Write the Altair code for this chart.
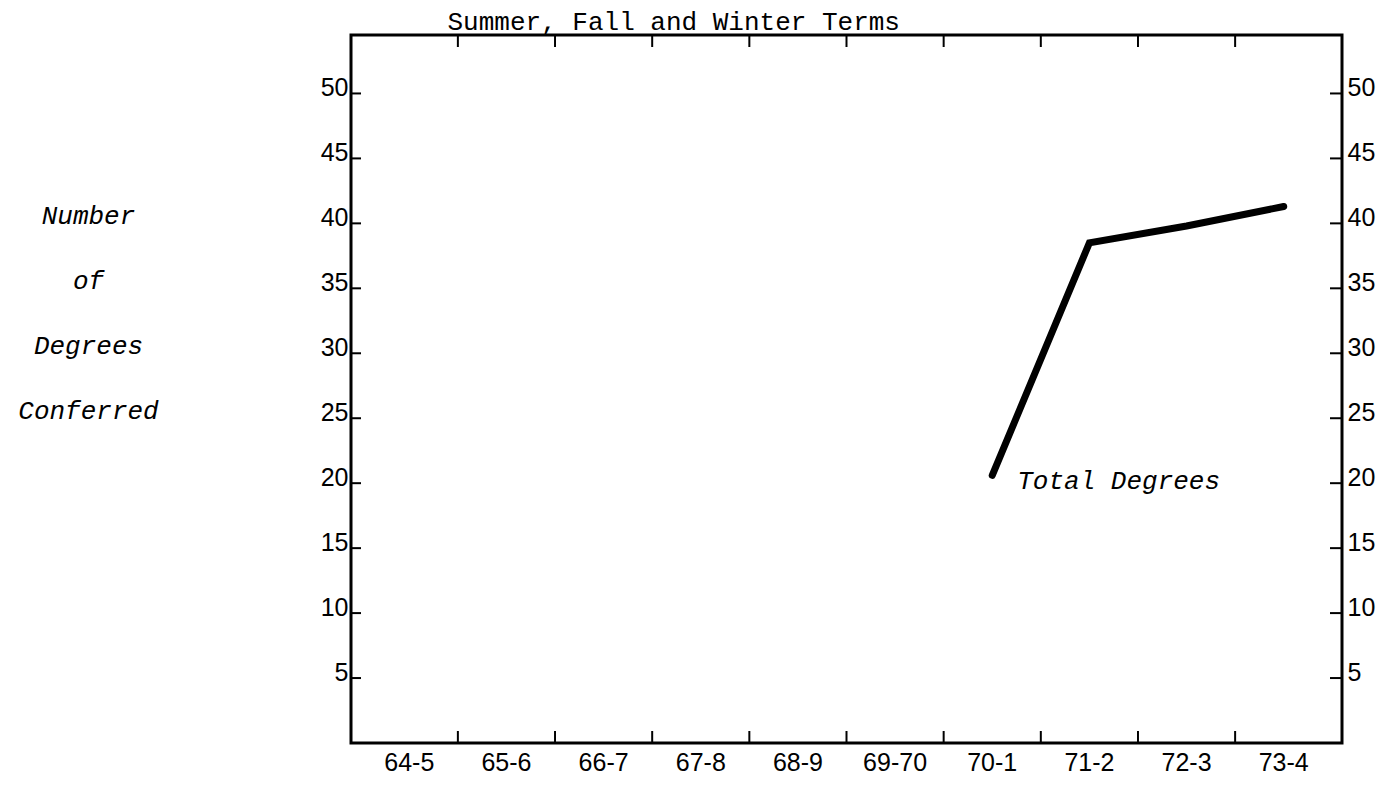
import altair as alt
import pandas as pd

# ---- data ----
terms = ["64-5", "65-6", "66-7", "67-8", "68-9", "69-70", "70-1", "71-2", "72-3", "73-4"]
line_terms = ["70-1", "71-2", "72-3", "73-4"]
line_values = [20.6, 38.5, 39.8, 41.3]
y_tick_values = [5, 10, 15, 20, 25, 30, 35, 40, 45, 50]
x_tick_terms = terms[1:]
title_text = "Summer, Fall and Winter Terms"
y_title_lines = ["Number", "of", "Degrees", "Conferred"]
series_label = "Total Degrees"

# ---- layout / style ----
W, H = 991, 708
MONO = "Liberation Mono"
SANS = "Liberation Sans"

xscale = alt.Scale(type="band", domain=terms, paddingInner=0, paddingOuter=0.1)
yscale = alt.Scale(domain=[0, 54.5], nice=False, zero=False)

line_df = pd.DataFrame({"term": line_terms, "degrees": line_values})
ytick_df = pd.DataFrame({"v": y_tick_values})
xtick_df = pd.DataFrame({"term": x_tick_terms})
label_df = pd.DataFrame({"term": [line_terms[0]], "degrees": [line_values[0]], "label": [series_label]})

line = alt.Chart(line_df).mark_line(color="black", strokeWidth=7, strokeCap="round").encode(
    x=alt.X("term:N", scale=xscale, bandPosition=0.5,
            axis=alt.Axis(orient="bottom", title=None, ticks=False, domain=False, grid=False,
                          labelAngle=0, labelFont=SANS, labelFontSize=25, labelColor="black",
                          labelPadding=7, labelBaseline="top", labelOverlap=False)),
    y=alt.Y("degrees:Q", scale=yscale,
            axis=alt.Axis(orient="left", values=y_tick_values, ticks=False, domain=False, grid=False,
                          labelFont=SANS, labelFontSize=25, labelColor="black", labelPadding=3,
                          labelBaseline="alphabetic", labelOffset=2,
                          title=y_title_lines, titleAngle=0, titleX=-263, titleY=180,
                          titleAlign="center", titleBaseline="middle", titleFont=MONO,
                          titleFontSize=26, titleFontStyle="italic", titleFontWeight="normal",
                          titleLineHeight=65, titleColor="black")),
)

left_ticks = alt.Chart(ytick_df).mark_rule(color="black", strokeWidth=2).encode(
    y=alt.Y("v:Q", scale=yscale, axis=None),
    x=alt.value(0), x2=alt.value(10),
)

right_ticks = alt.Chart(ytick_df).mark_rule(color="black", strokeWidth=2).encode(
    y=alt.Y("v:Q", scale=yscale,
            axis=alt.Axis(orient="right", values=y_tick_values, ticks=False, domain=False, grid=False,
                          labelFont=SANS, labelFontSize=25, labelColor="black", labelPadding=5,
                          labelBaseline="alphabetic", labelOffset=2, title=None)),
    x=alt.value(W - 12), x2=alt.value(W),
)

bottom_ticks = alt.Chart(xtick_df).mark_rule(color="black", strokeWidth=2).encode(
    x=alt.X("term:N", scale=xscale, bandPosition=0, axis=None),
    y=alt.value(H - 12), y2=alt.value(H),
)

# top ticks; their (label-less) top axis carries the chart heading
top_ticks = alt.Chart(xtick_df).mark_rule(color="black", strokeWidth=2).encode(
    x=alt.X("term:N", scale=xscale, bandPosition=0,
            axis=alt.Axis(orient="top", labels=False, ticks=False, domain=False, grid=False,
                          title=title_text, titleX=96, titleY=-6, titleAlign="left",
                          titleAnchor="start", titleBaseline="alphabetic", titleFont=MONO,
                          titleFontSize=26, titleFontWeight="normal", titleColor="black")),
    y=alt.value(0), y2=alt.value(12),
)

label = alt.Chart(label_df).mark_text(
    align="left", baseline="middle", dx=25, dy=6, font=MONO, fontSize=26,
    fontStyle="italic", color="black"
).encode(
    x=alt.X("term:N", scale=xscale, bandPosition=0.5, axis=None),
    y=alt.Y("degrees:Q", scale=yscale, axis=None),
    text="label:N",
)

chart = alt.layer(line, left_ticks, right_ticks, bottom_ticks, top_ticks, label).resolve_axis(
    x="independent", y="independent"
).properties(
    width=W, height=H,
    background="white",
    autosize=alt.AutoSizeParams(type="none"),
    padding={"left": 343, "top": 27, "right": 48, "bottom": 34},
).configure_view(stroke="black", strokeWidth=3)

chart.save("out.html", embed_options={"renderer": "svg", "actions": False})
